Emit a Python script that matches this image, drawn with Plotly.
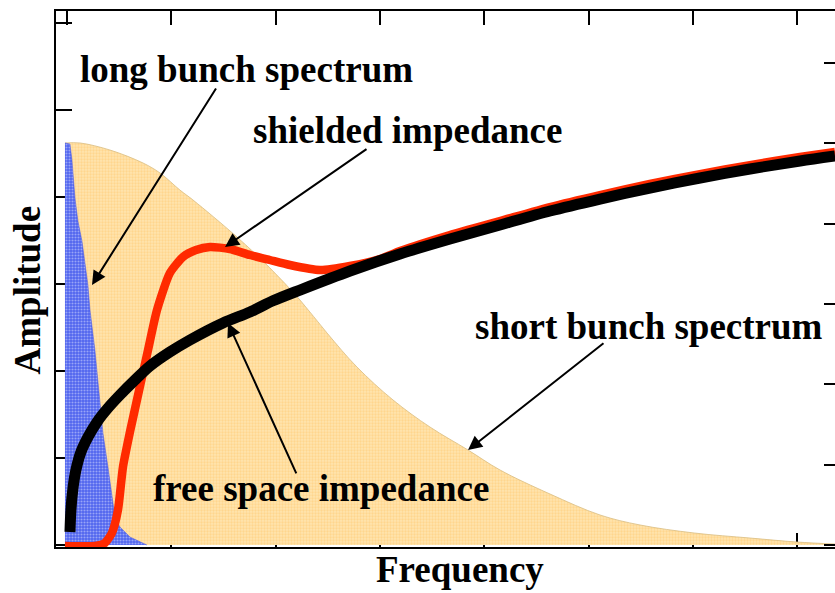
import plotly.graph_objects as go

# ---------------- data ----------------
# short bunch spectrum (left axis)
short_x = [-0.019, 0.125, 0.412, 0.729, 0.892, 1.083, 1.208, 1.630, 1.946, 2.234, 2.493, 2.780,
           3.126, 3.480, 3.845, 4.152, 4.631, 5.110, 5.494, 6.012, 6.549, 6.999, 7.363]
short_y = [4.621, 4.621, 4.540, 4.391, 4.276, 4.080, 3.966, 3.540, 3.184, 2.816, 2.437, 2.046,
           1.667, 1.356, 1.092, 0.862, 0.586, 0.345, 0.230, 0.138, 0.080, 0.034, 0.011]

# long bunch spectrum (left axis)
long_x = [-0.019, 0.029, 0.048, 0.077, 0.105, 0.144, 0.201, 0.221, 0.268, 0.316, 0.345, 0.393,
          0.441, 0.460, 0.508, 0.604, 0.767]
long_y = [4.621, 4.609, 4.425, 3.989, 3.724, 3.494, 2.989, 2.701, 2.241, 1.667, 1.287, 0.897,
          0.517, 0.322, 0.207, 0.092, 0.0]

# free space impedance (right axis)
free_x = [0.029, 0.038, 0.058, 0.086, 0.134, 0.201, 0.288, 0.393, 0.508, 0.652, 0.796, 0.988,
          1.179, 1.496, 1.755, 1.975, 2.234, 2.713, 3.193, 3.672, 4.151, 4.631, 5.110, 5.589,
          6.069, 6.548, 7.028, 7.363]
free_y = [0.162, 0.436, 0.710, 0.934, 1.158, 1.344, 1.531, 1.705, 1.867, 2.054, 2.228, 2.403,
          2.552, 2.764, 2.900, 3.040, 3.174, 3.411, 3.623, 3.809, 3.984, 4.158, 4.307, 4.444,
          4.569, 4.681, 4.780, 4.842]

# shielded impedance (right axis)
shield_x = [-0.019, 0.268, 0.364, 0.431, 0.489, 0.537, 0.604, 0.671, 0.777, 0.863, 0.987, 1.112,
            1.237, 1.371, 1.563, 1.755, 1.946, 2.138, 2.426, 2.713, 3.001, 3.193, 3.672, 4.151,
            4.631, 5.110, 5.589, 6.069, 6.548, 7.028, 7.363]
shield_y = [-0.012, -0.012, 0.025, 0.149, 0.436, 0.971, 1.407, 1.805, 2.427, 2.925, 3.386, 3.585,
            3.672, 3.710, 3.685, 3.610, 3.548, 3.486, 3.423, 3.473, 3.560, 3.660, 3.859, 4.033,
            4.208, 4.357, 4.494, 4.618, 4.730, 4.830, 4.892]

x_ticks = [0, 1, 2, 3, 4, 5, 6, 7]
left_ticks = [0, 1, 2, 3, 4, 5, 6]
right_ticks = [0, 1, 2, 3, 4, 5, 6]

FONT = "Liberation Serif"

fig = go.Figure()

fig.add_trace(go.Scatter(
    x=short_x, y=short_y, mode="lines", fill="tozeroy", line_shape="spline",
    line=dict(color="#D9BC80", width=0.8),
    fillcolor="#FFE0A2",
    fillpattern=dict(shape=".", bgcolor="#FFE4AE", fgcolor="#FFC86C", size=3, solidity=0.45),
    showlegend=False, hoverinfo="skip"))

fig.add_trace(go.Scatter(
    x=long_x, y=long_y, mode="lines", fill="tozeroy",
    line=dict(color="#4656E6", width=0.5),
    fillcolor="#6A7CF0",
    fillpattern=dict(shape=".", bgcolor="#5064EE", fgcolor="#E0E5FF", size=3, solidity=0.4),
    showlegend=False, hoverinfo="skip"))

fig.add_trace(go.Scatter(
    x=shield_x, y=shield_y, mode="lines", yaxis="y2",
    line=dict(color="#FF2A00", width=8.5, shape="spline", smoothing=0.6),
    showlegend=False, hoverinfo="skip"))

fig.add_trace(go.Scatter(
    x=free_x, y=free_y, mode="lines", yaxis="y2",
    line=dict(color="black", width=11, shape="spline", smoothing=0.8),
    showlegend=False, hoverinfo="skip"))

fig.update_layout(
    width=835, height=593,
    margin=dict(l=56, r=0, t=11, b=46),
    paper_bgcolor="white", plot_bgcolor="white",
    showlegend=False,
    xaxis=dict(range=[-0.105, 7.363], tickvals=x_ticks, ticks="inside", ticklen=14, tickwidth=2,
               tickcolor="black", showline=True, linewidth=2, linecolor="black", mirror="ticks",
               showticklabels=False, showgrid=False, zeroline=False, layer="below traces"),
    yaxis=dict(range=[-0.023, 6.138], tickvals=left_ticks, ticks="inside", ticklen=16, tickwidth=2,
               tickcolor="black", showline=True, linewidth=2, linecolor="black", mirror=False,
               showticklabels=False, showgrid=False, zeroline=False, layer="below traces"),
    yaxis2=dict(range=[-0.025, 6.648], tickvals=right_ticks, overlaying="y", side="right",
                ticks="inside", ticklen=11, tickwidth=2, tickcolor="black", showline=False,
                showticklabels=False, showgrid=False, zeroline=False),
)

label_font = dict(family=FONT, size=37, color="black")

labels = [
    ("long bunch spectrum", 1.72, 5.46),
    ("shielded impedance", 3.26, 4.759),
    ("short bunch spectrum", 5.58, 2.517),
    ("free space impedance", 2.435, 0.655),
]
for txt, lx, ly in labels:
    fig.add_annotation(x=lx, y=ly, xref="x", yref="y", text="<b>" + txt + "</b>",
                       showarrow=False, xanchor="center", yanchor="middle", font=label_font)

arrows = [
    # (tip x, tip y, tail x, tail y)
    (0.240, 2.989, 1.438, 5.264),
    (1.515, 3.425, 2.886, 4.563),
    (3.845, 1.092, 5.158, 2.333),
    (1.544, 2.552, 2.205, 0.805),
]
for tx, ty, sx, sy in arrows:
    fig.add_annotation(x=tx, y=ty, xref="x", yref="y", ax=sx, ay=sy, axref="x", ayref="y",
                       text="", showarrow=True, arrowhead=2, arrowsize=1.4, arrowwidth=2,
                       arrowcolor="black", standoff=0)

# axis titles
fig.add_annotation(x=-0.0366, y=0.4795, xref="paper", yref="paper", text="<b>Amplitude</b>",
                   textangle=-90, showarrow=False, xanchor="center", yanchor="middle",
                   font=label_font)
fig.add_annotation(x=0.5186, y=-0.0425, xref="paper", yref="paper", text="<b>Frequency</b>",
                   showarrow=False, xanchor="center", yanchor="middle", font=label_font)

fig.write_html("out.html")
